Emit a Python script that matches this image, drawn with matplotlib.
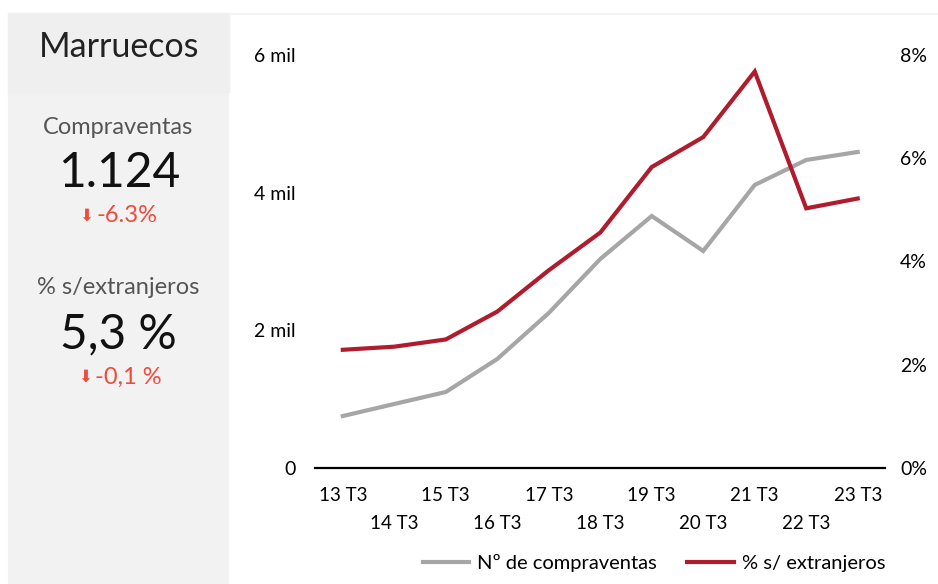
import matplotlib.pyplot as plt
from matplotlib.patches import Rectangle
from matplotlib.lines import Line2D
from matplotlib.ticker import FixedLocator, FuncFormatter

trimestres = ['13 T3', '14 T3', '15 T3', '16 T3', '17 T3', '18 T3',
              '19 T3', '20 T3', '21 T3', '22 T3', '23 T3']
compraventas = [755, 930, 1104, 1584, 2252, 3036, 3661, 3153, 4112, 4475, 4591]
pct_extranjeros = [2.29, 2.35, 2.49, 3.03, 3.83, 4.56, 5.83, 6.41, 7.68, 5.03, 5.22]

pais = 'Marruecos'
ultimo_compraventas = '1.124'
var_compraventas = '-6.3%'
ultimo_pct = '5,3 %'
var_pct = '-0,1 %'

gris = '#a6a6a6'
rojo = '#ae1c2e'
rojo_var = '#f04a3b'

plt.rcParams['font.family'] = ['Lato', 'DejaVu Sans']

fig = plt.figure(figsize=(9.38, 5.84), dpi=100)
W, H = 938, 584

def fx(px):
    return px / W

def fy(py):
    return 1 - py / H

# side panel
fig.patches.append(Rectangle((fx(8), fy(584)), fx(220), fy(92) - fy(584),
                             transform=fig.transFigure, color='#f2f2f2', zorder=0))
fig.patches.append(Rectangle((fx(8), fy(92)), fx(221), fy(13) - fy(92),
                             transform=fig.transFigure, color='#efefef', zorder=0))
fig.add_artist(Line2D([fx(229), 1], [fy(14), fy(14)], color='#f3f3f3', lw=1.5,
                      transform=fig.transFigure))

fig.text(fx(119), fy(47), pais, ha='center', va='center', fontsize=24.5, color='#222222')
fig.text(fx(118), fy(128), 'Compraventas', ha='center', va='center', fontsize=17, color='#555555')
fig.text(fx(119), fy(173), ultimo_compraventas, ha='center', va='center', fontsize=34.5, color='#111111')
fig.text(fx(127), fy(216), var_compraventas, ha='center', va='center', fontsize=17, color=rojo_var)
fig.text(fx(86), fy(216), '⬇', ha='center', va='center', fontsize=12, color=rojo_var,
         family='DejaVu Sans')
fig.text(fx(118), fy(287), '% s/extranjeros', ha='center', va='center', fontsize=17, color='#555555')
fig.text(fx(118), fy(334), ultimo_pct, ha='center', va='center', fontsize=34.5, color='#111111')
fig.text(fx(128), fy(377), var_pct, ha='center', va='center', fontsize=17, color=rojo_var)
fig.text(fx(85), fy(377), '⬇', ha='center', va='center', fontsize=12, color=rojo_var,
         family='DejaVu Sans')

# chart
ax = fig.add_axes([fx(315), fy(468), fx(885) - fx(315), fy(55) - fy(468)])
ax2 = ax.twinx()
x = list(range(len(trimestres)))

ax.plot(x, compraventas, color=gris, lw=3, solid_joinstyle='miter')
ax2.plot(x, pct_extranjeros, color=rojo, lw=3, solid_joinstyle='miter')

ax.set_xlim(-0.54, 10.53)
ax.set_ylim(0, 6000)
ax2.set_ylim(0, 8)

for a in (ax, ax2):
    for s in a.spines.values():
        s.set_visible(False)
ax.spines['bottom'].set_visible(True)
ax.spines['bottom'].set_linewidth(1.6)
ax.spines['bottom'].set_color('black')

ax.set_yticks([0, 2000, 4000, 6000])
ax.yaxis.set_major_formatter(FuncFormatter(lambda v, p: '0' if v == 0 else f'{int(v / 1000)} mil'))
ax2.set_yticks([0, 2, 4, 6, 8])
ax2.yaxis.set_major_formatter(FuncFormatter(lambda v, p: f'{int(v)}%'))

ax.xaxis.set_major_locator(FixedLocator(x[::2]))
ax.xaxis.set_minor_locator(FixedLocator(x[1::2]))
ax.set_xticklabels(trimestres[::2])
ax.set_xticklabels(trimestres[1::2], minor=True)

ax.tick_params(axis='y', length=0, pad=14, labelsize=14)
ax2.tick_params(axis='y', length=0, pad=11, labelsize=14)
ax.tick_params(axis='x', which='major', length=0, pad=14, labelsize=13.5)
ax.tick_params(axis='x', which='minor', length=0, pad=34, labelsize=13.5)

handles = [Line2D([], [], color=gris, lw=3), Line2D([], [], color=rojo, lw=3)]
fig.legend(handles, ['Nº de compraventas', '% s/ extranjeros'], loc='center',
           bbox_to_anchor=(fx(654), fy(563)), ncol=2, frameon=False, fontsize=14.5,
           handlelength=2.3, handletextpad=0.4, columnspacing=1.5)

fig.savefig('out.png', dpi=100)
